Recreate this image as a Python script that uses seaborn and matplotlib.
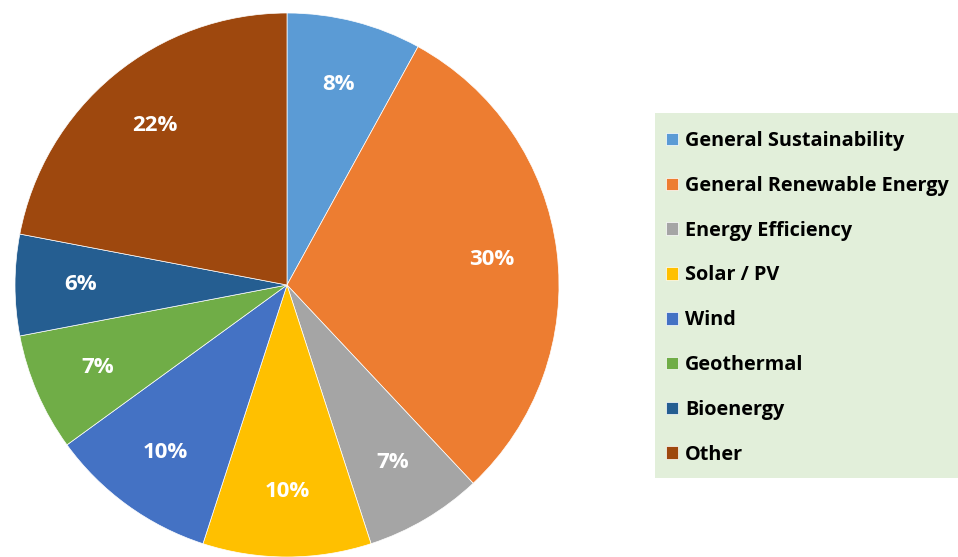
import matplotlib
matplotlib.use("Agg")
import matplotlib.pyplot as plt
from matplotlib.patches import Rectangle
import seaborn as sns

# Data
categories = ["General Sustainability", "General Renewable Energy", "Energy Efficiency",
              "Solar / PV", "Wind", "Geothermal", "Bioenergy", "Other"]
shares = [8, 30, 7, 10, 10, 7, 6, 22]
slice_colors = ["#5B9BD5", "#ED7D31", "#A5A5A5", "#FFC000",
                "#4472C4", "#70AD47", "#255E91", "#9E480E"]

sns.set_theme(style="white")
plt.rcParams["font.family"] = ["Open Sans", "DejaVu Sans"]
palette = sns.color_palette(slice_colors)

fig = plt.figure(figsize=(9.58, 5.57), dpi=100)
ax = fig.add_axes([15 / 958, 0.0, 544 / 958, 544 / 557])

wedges, texts, autotexts = ax.pie(
    shares, colors=palette, startangle=90, counterclock=False,
    autopct="%1.0f%%", pctdistance=0.76, radius=1,
    wedgeprops=dict(linewidth=0.5, edgecolor="white"),
    textprops=dict(color="white", fontsize=16, fontweight="bold"))
ax.set_xlim(-1, 1)
ax.set_ylim(-1, 1)
ax.set_aspect("equal")

# green legend panel
fig.patches.append(Rectangle((655 / 958, 79 / 557), 303 / 958, 365 / 557,
                             transform=fig.transFigure, facecolor="#E2EFDA",
                             edgecolor="none", zorder=0))

leg = fig.legend(wedges, categories, loc="upper left",
                 bbox_to_anchor=(666 / 958, 1 - 131 / 557),
                 prop=dict(weight="bold", size=14.3),
                 handlelength=0.6, handleheight=0.6, handletextpad=0.35,
                 labelspacing=1.25, borderpad=0, borderaxespad=0,
                 frameon=False)
for t in leg.get_texts():
    t.set_color("black")

fig.savefig("out.png", dpi=100)
